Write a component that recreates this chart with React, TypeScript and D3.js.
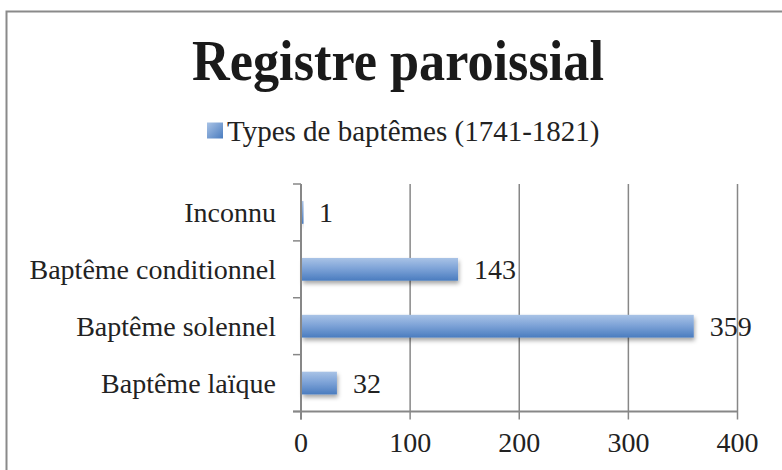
import React, { useRef, useEffect } from 'react';
import * as d3 from 'd3';

// categories listed top to bottom
const categories = ['Inconnu', 'Baptême conditionnel', 'Baptême solennel', 'Baptême laïque'];
const counts = [1, 143, 359, 32];
const xTicks = [0, 100, 200, 300, 400];
const seriesName = 'Types de baptêmes (1741-1821)';
const chartTitle = 'Registre paroissial';

const W = 782;
const H = 470;
const FONT = '"Liberation Serif", "DejaVu Serif", serif';

const App: React.FC = () => {
  const svgRef = useRef<SVGSVGElement | null>(null);

  useEffect(() => {
    if (!svgRef.current) return;
    const svg = d3.select(svgRef.current);
    svg.selectAll('*').remove();

    const plot = { left: 301, right: 737.5, top: 184, bottom: 411.5 };

    const x = d3.scaleLinear().domain([0, 400]).range([plot.left, plot.right]);
    const y = d3
      .scaleBand<string>()
      .domain(categories)
      .range([plot.top, plot.bottom])
      .paddingInner(0.6)
      .paddingOuter(0.3);
    const step = y.step();

    const defs = svg.append('defs');
    const grad = defs
      .append('linearGradient')
      .attr('id', 'barGrad')
      .attr('x1', 0).attr('y1', 0).attr('x2', 0).attr('y2', 1);
    grad.append('stop').attr('offset', '0%').attr('stop-color', '#a9c3e6');
    grad.append('stop').attr('offset', '45%').attr('stop-color', '#7fa4d8');
    grad.append('stop').attr('offset', '100%').attr('stop-color', '#4a7cbf');

    const legGrad = defs
      .append('linearGradient')
      .attr('id', 'legGrad')
      .attr('x1', 0).attr('y1', 0).attr('x2', 1).attr('y2', 1);
    legGrad.append('stop').attr('offset', '0%').attr('stop-color', '#a9c3e6');
    legGrad.append('stop').attr('offset', '100%').attr('stop-color', '#4a7cbf');

    const shadow = defs
      .append('filter')
      .attr('id', 'shadow')
      .attr('x', '-10%').attr('y', '-30%').attr('width', '130%').attr('height', '180%');
    shadow
      .append('feDropShadow')
      .attr('dx', 1)
      .attr('dy', 3)
      .attr('stdDeviation', 2)
      .attr('flood-color', '#000')
      .attr('flood-opacity', 0.35);

    // frame
    svg.append('rect')
      .attr('x', 6.5)
      .attr('y', 11.5)
      .attr('width', W + 20)
      .attr('height', H + 20)
      .attr('fill', '#fff')
      .attr('stroke', '#8a8a8a')
      .attr('stroke-width', 2);

    // title
    svg.append('text')
      .attr('x', 398)
      .attr('y', 80)
      .attr('text-anchor', 'middle')
      .attr('font-family', FONT)
      .attr('font-weight', 'bold')
      .attr('font-size', 56)
      .attr('fill', '#1a1a1a')
      .attr('textLength', 412)
      .attr('lengthAdjust', 'spacingAndGlyphs')
      .text(chartTitle);

    // legend
    svg.append('rect')
      .attr('x', 207)
      .attr('y', 122.5)
      .attr('width', 16)
      .attr('height', 16)
      .attr('fill', 'url(#legGrad)');
    svg.append('text')
      .attr('x', 227)
      .attr('y', 141)
      .attr('font-family', FONT)
      .attr('font-size', 29)
      .attr('fill', '#222')
      .text(seriesName);

    const axisColor = '#878787';

    // vertical gridlines (and ticks below axis)
    svg.append('g')
      .selectAll('line')
      .data(xTicks)
      .enter()
      .append('line')
      .attr('x1', d => x(d))
      .attr('x2', d => x(d))
      .attr('y1', plot.top)
      .attr('y2', plot.bottom + 8)
      .attr('stroke', axisColor)
      .attr('stroke-width', 1.5);

    // bottom axis line
    svg.append('line')
      .attr('x1', plot.left - 8)
      .attr('x2', plot.right)
      .attr('y1', plot.bottom)
      .attr('y2', plot.bottom)
      .attr('stroke', axisColor)
      .attr('stroke-width', 2);

    // category tick marks at band boundaries
    const boundaries = d3.range(categories.length + 1).map(i => plot.top + i * step);
    svg.append('g')
      .selectAll('line')
      .data(boundaries)
      .enter()
      .append('line')
      .attr('x1', plot.left - 8)
      .attr('x2', plot.left)
      .attr('y1', d => d)
      .attr('y2', d => d)
      .attr('stroke', axisColor)
      .attr('stroke-width', 1.5);

    // bars
    svg.append('g')
      .selectAll('rect')
      .data(categories)
      .enter()
      .append('rect')
      .attr('x', x(0) + 1)
      .attr('y', d => y(d) || 0)
      .attr('width', (d, i) => Math.max(1.5, x(counts[i]) - x(0)))
      .attr('height', y.bandwidth())
      .attr('fill', 'url(#barGrad)')
      .attr('filter', 'url(#shadow)');

    // left axis line drawn over bars
    svg.append('line')
      .attr('x1', plot.left)
      .attr('x2', plot.left)
      .attr('y1', plot.top)
      .attr('y2', plot.bottom + 8)
      .attr('stroke', axisColor)
      .attr('stroke-width', 2);

    // category labels
    svg.append('g')
      .selectAll('text')
      .data(categories)
      .enter()
      .append('text')
      .attr('x', 276)
      .attr('y', d => (y(d) || 0) + y.bandwidth() / 2)
      .attr('dy', '0.35em')
      .attr('text-anchor', 'end')
      .attr('font-family', FONT)
      .attr('font-size', 28)
      .attr('fill', '#222')
      .text(d => d);

    // value labels
    svg.append('g')
      .selectAll('text')
      .data(categories)
      .enter()
      .append('text')
      .attr('x', (d, i) => x(counts[i]) + 17)
      .attr('y', d => (y(d) || 0) + y.bandwidth() / 2)
      .attr('dy', '0.35em')
      .attr('font-family', FONT)
      .attr('font-size', 28)
      .attr('fill', '#222')
      .text((d, i) => String(counts[i]));

    // x tick labels
    svg.append('g')
      .selectAll('text')
      .data(xTicks)
      .enter()
      .append('text')
      .attr('x', d => x(d))
      .attr('y', 452)
      .attr('text-anchor', 'middle')
      .attr('font-family', FONT)
      .attr('font-size', 28)
      .attr('fill', '#222')
      .text(d => String(d));
  }, []);

  return (
    <div style={{ position: 'absolute', left: 0, top: 0, width: W, height: H, overflow: 'hidden' }}>
      <svg ref={svgRef} width={W} height={H} style={{ display: 'block', background: '#fff' }}></svg>
    </div>
  );
};

export default App;
